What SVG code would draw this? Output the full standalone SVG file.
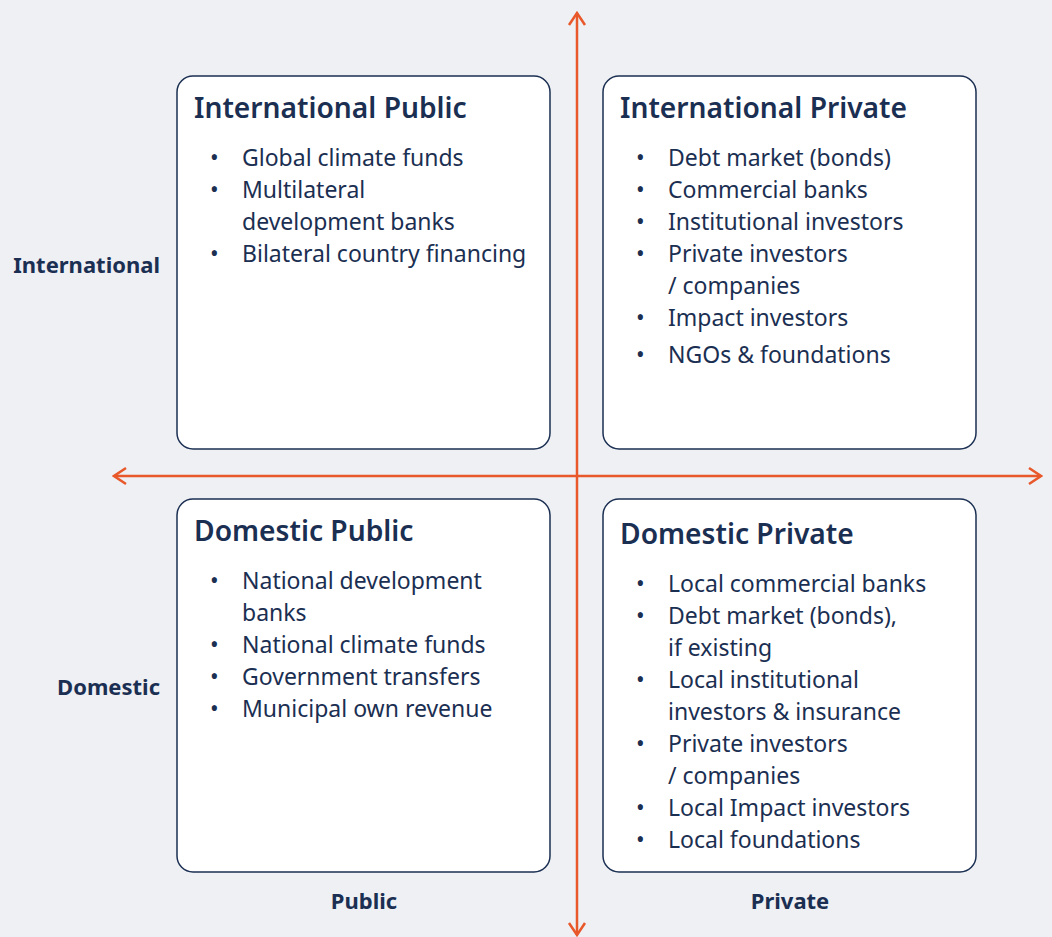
<svg xmlns="http://www.w3.org/2000/svg" width="1052" height="937" viewBox="0 0 1052 937">
<defs>
<style>
.box{fill:#ffffff;stroke:#1b2f52;stroke-width:1.5}
.title{font-family:"Noto Sans",sans-serif;font-weight:600;font-size:28.2px;fill:#1b2f52}
.item{font-family:"Noto Sans",sans-serif;font-size:23px;fill:#1b2f52}
.axis{font-family:"Noto Sans",sans-serif;font-weight:700;font-size:22px;fill:#1b2f52}
.ax{stroke:#e8582a;stroke-width:2.5;fill:none}
</style>
<marker id="ah" viewBox="0 0 20 20" refX="18" refY="10" markerWidth="20" markerHeight="20" markerUnits="userSpaceOnUse" orient="auto">
<path d="M6,2 L18,10 L6,18" fill="none" stroke="#e8582a" stroke-width="2.5"/>
</marker>
</defs>
<rect width="1052" height="937" fill="#eef0f4"/>
<g id="connectors">
<line class="ax" x1="577" y1="476" x2="577" y2="13" marker-end="url(#ah)"/>
<line class="ax" x1="577" y1="476" x2="577" y2="935" marker-end="url(#ah)"/>
<line class="ax" x1="577" y1="476" x2="114" y2="476" marker-end="url(#ah)"/>
<line class="ax" x1="577" y1="476" x2="1041" y2="476" marker-end="url(#ah)"/>
</g>
<g id="intl-public">
<rect class="box" x="177" y="76" width="373" height="373" rx="16"/>
<text class="title" x="194" y="118">International Public</text>
<g class="item">
<text x="210" y="166">•</text><text x="242" y="166">Global climate funds</text>
<text x="210" y="198">•</text><text x="242" y="198">Multilateral</text>
<text x="242" y="230">development banks</text>
<text x="210" y="262">•</text><text x="242" y="262">Bilateral country financing</text>
</g>
</g>
<g id="intl-private">
<rect class="box" x="603" y="76" width="373" height="373" rx="16"/>
<text class="title" x="620" y="118">International Private</text>
<g class="item">
<text x="636" y="166">•</text><text x="668" y="166">Debt market (bonds)</text>
<text x="636" y="198">•</text><text x="668" y="198">Commercial banks</text>
<text x="636" y="230">•</text><text x="668" y="230">Institutional investors</text>
<text x="636" y="262">•</text><text x="668" y="262">Private investors</text>
<text x="668" y="294">/ companies</text>
<text x="636" y="326">•</text><text x="668" y="326">Impact investors</text>
<text x="636" y="363">•</text><text x="668" y="363">NGOs &amp; foundations</text>
</g>
</g>
<g id="dom-public">
<rect class="box" x="177" y="499" width="373" height="373" rx="16"/>
<text class="title" x="194" y="541">Domestic Public</text>
<g class="item">
<text x="210" y="589">•</text><text x="242" y="589">National development</text>
<text x="242" y="621">banks</text>
<text x="210" y="653">•</text><text x="242" y="653">National climate funds</text>
<text x="210" y="685">•</text><text x="242" y="685">Government transfers</text>
<text x="210" y="717">•</text><text x="242" y="717">Municipal own revenue</text>
</g>
</g>
<g id="dom-private">
<rect class="box" x="603" y="499" width="373" height="373" rx="16"/>
<text class="title" x="620" y="544">Domestic Private</text>
<g class="item">
<text x="636" y="592">•</text><text x="668" y="592">Local commercial banks</text>
<text x="636" y="624">•</text><text x="668" y="624">Debt market (bonds),</text>
<text x="668" y="656">if existing</text>
<text x="636" y="688">•</text><text x="668" y="688">Local institutional</text>
<text x="668" y="720">investors &amp; insurance</text>
<text x="636" y="752">•</text><text x="668" y="752">Private investors</text>
<text x="668" y="784">/ companies</text>
<text x="636" y="816">•</text><text x="668" y="816">Local Impact investors</text>
<text x="636" y="848">•</text><text x="668" y="848">Local foundations</text>
</g>
</g>
<g id="axis-labels">
<text class="axis" x="160" y="273" text-anchor="end">International</text>
<text class="axis" x="160" y="695" text-anchor="end">Domestic</text>
<text class="axis" x="364" y="909" text-anchor="middle">Public</text>
<text class="axis" x="790" y="909" text-anchor="middle">Private</text>
</g>
</svg>
